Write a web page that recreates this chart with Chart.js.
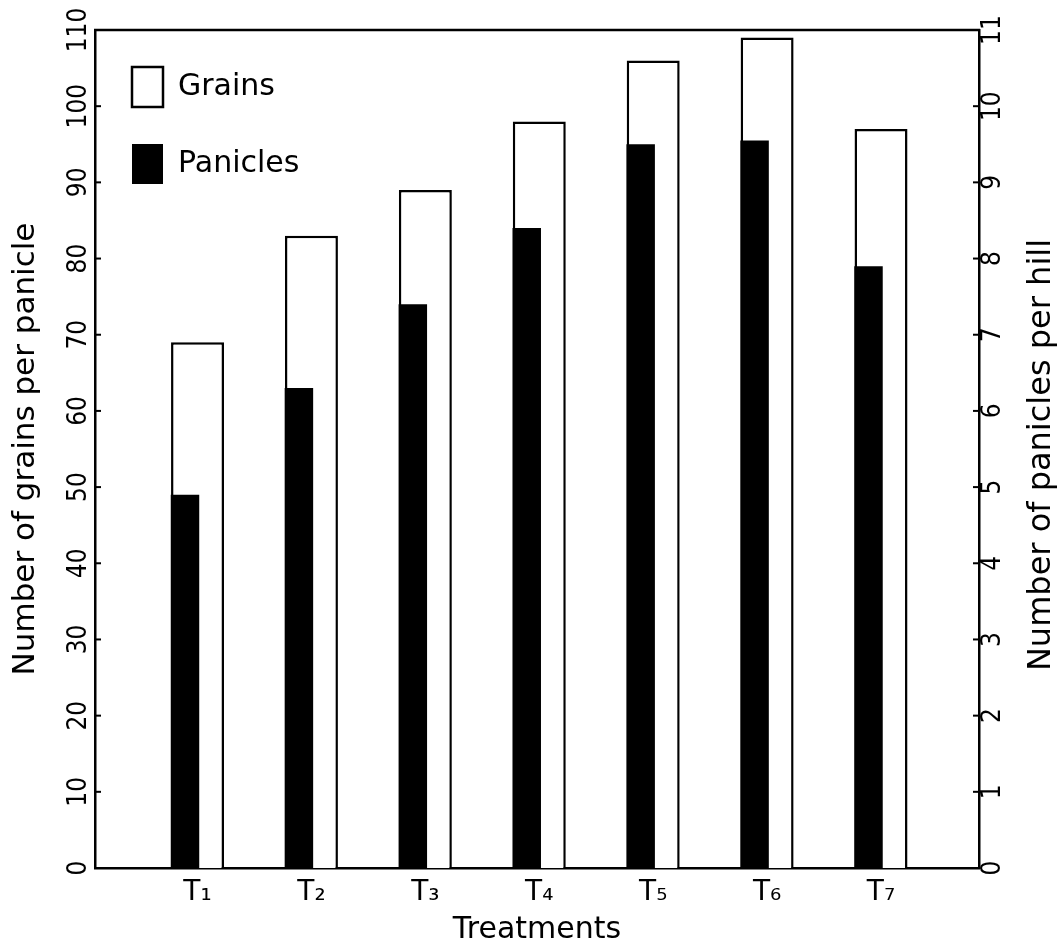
<!DOCTYPE html>
<html>
<head>
<meta charset="utf-8">
<script src="https://cdn.jsdelivr.net/npm/chart.js@4.4.1/dist/chart.umd.min.js"></script>
<style>
  html, body { margin: 0; padding: 0; background: #fff; }
  #wrap { width: 1064px; height: 949px; }
</style>
</head>
<body>
<div id="wrap"><canvas id="chart" width="1064" height="949"></canvas></div>
<script>
// values
const treatments = ['T₁', 'T₂', 'T₃', 'T₄', 'T₅', 'T₆', 'T₇']
const grainsPerPanicle = [69, 83, 89, 98, 106, 109, 97]
const paniclesPerHill = [4.9, 6.3, 7.4, 8.4, 9.5, 9.55, 7.9]
const leftTicks = { min: 0, max: 110, step: 10 }
const rightTicks = { min: 0, max: 11, step: 1 }

const leftTitle = 'Number of grains per panicle'
const rightTitle = 'Number of panicles per hill'
const bottomTitle = 'Treatments'

const INK = '#000'
const FAMILY = "'DejaVu Sans', sans-serif"
const TICK_FAMILY = "'DejaVu Sans Condensed', 'DejaVu Sans', sans-serif"

const toPoints = values => values.map((v, i) => ({ x: i + 1, y: v }))

const treatmentLabel = v => (Number.isInteger(v) && treatments[v - 1]) || ''

// inward tick marks, top frame line and the right hand title
const framePlugin = {
  id: 'frame',
  afterDraw (chart) {
    const { ctx, chartArea } = chart
    ctx.save()
    ctx.strokeStyle = INK
    ctx.lineWidth = 2.5
    ctx.beginPath()
    ctx.moveTo(chartArea.left - 1, chartArea.top)
    ctx.lineTo(chartArea.right + 1, chartArea.top)
    ctx.stroke()

    ctx.lineWidth = 2
    const left = chart.scales.y
    for (const t of left.ticks) {
      const py = left.getPixelForValue(t.value)
      ctx.beginPath()
      ctx.moveTo(chartArea.left, py)
      ctx.lineTo(chartArea.left + 6, py)
      ctx.stroke()
    }
    const right = chart.scales.y1
    for (const t of right.ticks) {
      const py = right.getPixelForValue(t.value)
      ctx.beginPath()
      ctx.moveTo(chartArea.right - 6, py)
      ctx.lineTo(chartArea.right, py)
      ctx.stroke()
    }

    ctx.fillStyle = INK
    ctx.font = '32px ' + FAMILY
    ctx.textAlign = 'center'
    ctx.textBaseline = 'middle'
    ctx.translate(chartArea.right + 63, (chartArea.top + chartArea.bottom) / 2 + 6)
    ctx.rotate(-Math.PI / 2)
    ctx.fillText(rightTitle, 0, 0)
    ctx.restore()
  }
}

const linearX = (min, max, display) => ({
  type: 'linear',
  axis: 'x',
  position: 'bottom',
  display,
  min,
  max,
  offset: false,
  grid: { display: false, drawTicks: false, offset: false },
  border: { display: true, color: INK, width: 2.5 },
  ticks: {
    stepSize: 1,
    includeBounds: false,
    autoSkip: false,
    maxRotation: 0,
    padding: 8,
    color: INK,
    font: { family: FAMILY, size: 28 },
    callback: treatmentLabel
  }
})

const xScale = linearX(0.1, 7.86, true)
xScale.title = {
  display: true,
  text: bottomTitle,
  color: INK,
  font: { family: FAMILY, size: 30 },
  padding: { top: 0, bottom: 1 }
}
xScale.afterFit = s => { s.height = 81 }

// the black bars sit on a twin axis shifted so both bars share a left edge
const xShift = linearX(0.21, 7.97, false)

new Chart(document.getElementById('chart'), {
  type: 'bar',
  data: {
    datasets: [
      {
        label: 'Panicles',
        data: toPoints(paniclesPerHill),
        xAxisID: 'xp',
        yAxisID: 'y1',
        grouped: false,
        backgroundColor: INK,
        borderColor: INK,
        borderWidth: 0,
        barPercentage: 1,
        categoryPercentage: 0.25
      },
      {
        label: 'Grains',
        data: toPoints(grainsPerPanicle),
        xAxisID: 'x',
        yAxisID: 'y',
        grouped: false,
        backgroundColor: '#fff',
        borderColor: INK,
        borderWidth: 2.5,
        barPercentage: 1,
        categoryPercentage: 0.465
      }
    ]
  },
  options: {
    responsive: false,
    animation: false,
    devicePixelRatio: 1,
    layout: { padding: { top: 30, left: 0, right: 0, bottom: 0 } },
    plugins: {
      tooltip: { enabled: false },
      legend: {
        position: 'chartArea',
        align: 'start',
        reverse: true,
        // empty title only pushes the entries down from the frame
        title: { display: true, text: '', font: { size: 10, lineHeight: 1 }, padding: { top: 10, bottom: 10 } },
        labels: {
          boxWidth: 31,
          boxHeight: 40,
          padding: 37,
          color: INK,
          font: { family: FAMILY, size: 30 }
        }
      }
    },
    scales: {
      x: xScale,
      xp: xShift,
      y: {
        type: 'linear',
        axis: 'y',
        position: 'left',
        min: leftTicks.min,
        max: leftTicks.max,
        grid: { display: false, drawTicks: false },
        border: { display: true, color: INK, width: 2.5 },
        ticks: {
          stepSize: leftTicks.step,
          autoSkip: false,
          minRotation: 90,
          maxRotation: 90,
          crossAlign: 'center',
          padding: -7,
          color: INK,
          font: { family: TICK_FAMILY, size: 26 }
        },
        title: {
          display: true,
          text: leftTitle,
          color: INK,
          font: { family: FAMILY, size: 31 },
          padding: { top: 7, bottom: 0 }
        },
        afterFit: s => { s.width = 95 }
      },
      y1: {
        type: 'linear',
        axis: 'y',
        position: 'right',
        min: rightTicks.min,
        max: rightTicks.max,
        grid: { display: false, drawTicks: false },
        border: { display: true, color: INK, width: 2.5 },
        ticks: {
          stepSize: rightTicks.step,
          autoSkip: false,
          minRotation: 90,
          maxRotation: 90,
          crossAlign: 'center',
          padding: -1,
          color: INK,
          font: { family: TICK_FAMILY, size: 26 }
        },
        afterFit: s => { s.width = 85 }
      }
    }
  },
  plugins: [framePlugin]
})
</script>
</body>
</html>
